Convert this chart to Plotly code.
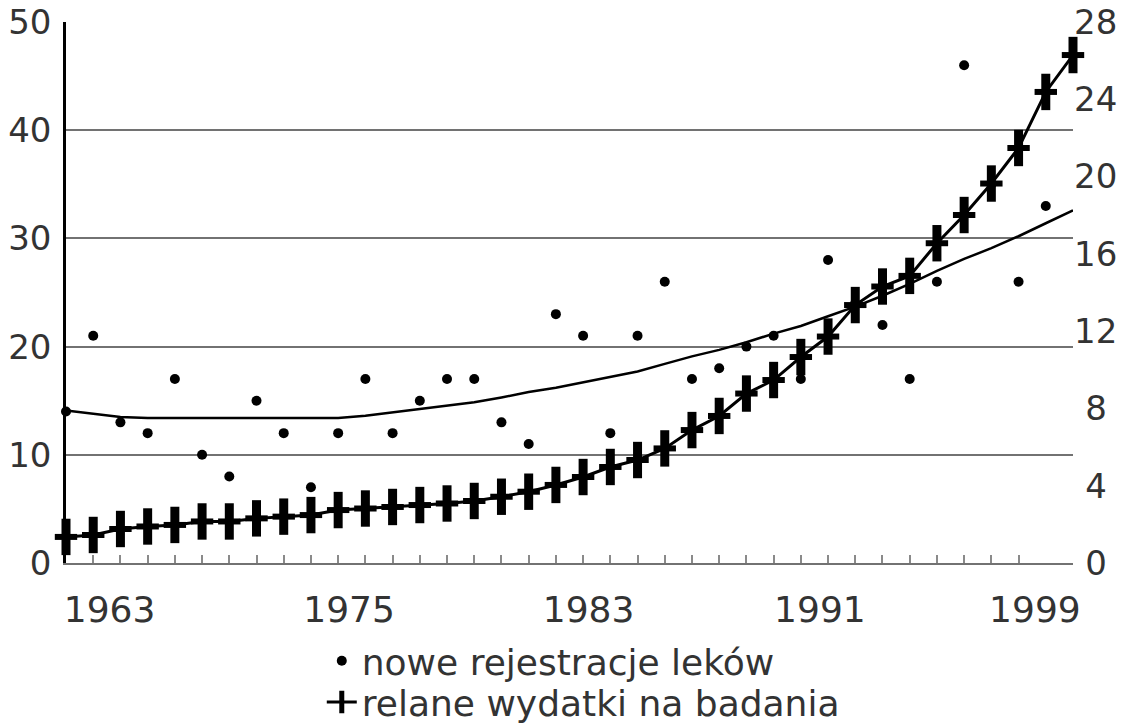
import plotly.graph_objects as go

# ---------------- data ----------------
YEARS = list(range(1963, 2001))

# new drug registrations (left axis)
REGISTRATIONS = [14, 21, 13, 12, 17, 10, 8, 15, 12, 7,
                 12, 17, 12, 15, 17, 17, 13, 11, 23, 21,
                 12, 21, 26, 17, 18, 20, 21, 17, 28, 24,
                 22, 17, 26, 46, 35, 26, 33, None]

# trend of registrations (left axis)
TREND = [14.1, 13.8, 13.5, 13.4, 13.4, 13.4, 13.4, 13.4, 13.4, 13.4,
         13.4, 13.6, 13.9, 14.2, 14.5, 14.85, 15.3, 15.8, 16.2, 16.7,
         17.2, 17.7, 18.4, 19.1, 19.7, 20.4, 21.2, 21.9, 22.8, 23.7,
         24.7, 25.8, 27.0, 28.1, 29.1, 30.2, 31.4, 32.6]

# real research spending (right axis)
SPENDING = [1.35, 1.45, 1.76, 1.89, 1.97, 2.15, 2.15, 2.31, 2.40, 2.48,
            2.74, 2.82, 2.90, 3.00, 3.08, 3.21, 3.43, 3.69, 4.04, 4.45,
            4.97, 5.33, 5.93, 6.88, 7.61, 8.77, 9.47, 10.66, 11.72, 13.35,
            14.31, 14.86, 16.55, 18.01, 19.64, 21.48, 24.38, 26.29]

X_TICK_LABELS = ["1963", "1975", "1983", "1991", "1999"]
X_TICK_LABEL_POS = [1964.6, 1973.4, 1982.2, 1990.7, 1998.6]
Y_LEFT_TICKS = [0, 10, 20, 30, 40, 50]
Y_RIGHT_TICKS = [0, 4, 8, 12, 16, 20, 24, 28]

SERIES_DOTS = "nowe rejestracje leków"
SERIES_CROSS = "relane wydatki na badania"

# ---------------- style ----------------
FONT = "DejaVu Sans"
TXT = "#333333"
GRID = "#727272"


def right_label(v):
    s = str(v)
    return ("\u2004" + s) if len(s) == 1 else s


fig = go.Figure()

fig.add_trace(go.Scatter(
    x=YEARS, y=REGISTRATIONS, mode="markers", name=SERIES_DOTS,
    marker=dict(symbol="circle", size=10, color="black"),
    xaxis="x", yaxis="y", cliponaxis=False, legend="legend",
))

fig.add_trace(go.Scatter(
    x=YEARS, y=TREND, mode="lines", showlegend=False,
    line=dict(color="black", width=2.5),
    xaxis="x2", yaxis="y", cliponaxis=False,
))

fig.add_trace(go.Scatter(
    x=YEARS, y=SPENDING, mode="lines+markers", name=SERIES_CROSS,
    line=dict(color="black", width=3),
    marker=dict(symbol="line-ns", size=26, color="black",
                line=dict(color="black", width=9)),
    xaxis="x", yaxis="y2", cliponaxis=False, legend="legend2",
))

fig.add_trace(go.Scatter(
    x=YEARS, y=SPENDING, mode="markers", showlegend=False,
    marker=dict(symbol="line-ew", size=16, color="black",
                line=dict(color="black", width=6)),
    xaxis="x", yaxis="y2", cliponaxis=False,
))

fig.update_layout(
    width=1130, height=724,
    margin=dict(l=66, r=57, t=22, b=161, autoexpand=False),
    paper_bgcolor="white", plot_bgcolor="white",
    font=dict(family=FONT, color=TXT, size=34),
    xaxis=dict(
        range=[YEARS[0], YEARS[-1]], automargin=False,
        showgrid=False, zeroline=False,
        showline=True, linecolor=GRID, linewidth=2,
        ticks="inside", ticklen=8, tickwidth=2, tickcolor="#8a8a8a",
        tickvals=YEARS[1:36], showticklabels=False,
    ),
    xaxis2=dict(
        overlaying="x", anchor="y", side="bottom", automargin=False,
        range=[YEARS[0], YEARS[-1]],
        showgrid=False, zeroline=False, showline=False,
        ticks="", tickvals=X_TICK_LABEL_POS, ticktext=X_TICK_LABELS,
        tickfont=dict(size=36, family=FONT, color=TXT),
        ticklabelstandoff=22,
    ),
    yaxis=dict(
        range=[0, 50], tickvals=Y_LEFT_TICKS, automargin=False,
        showgrid=True, gridcolor=GRID, gridwidth=2,
        zeroline=False, showline=True, linecolor="black", linewidth=2.5,
        ticks="", tickfont=dict(size=34, family=FONT, color=TXT),
        ticklabelstandoff=5,
    ),
    yaxis2=dict(
        overlaying="y", side="right", anchor="x", automargin=False,
        range=[0, 28], tickvals=Y_RIGHT_TICKS,
        ticktext=[right_label(v) for v in Y_RIGHT_TICKS],
        showgrid=False, zeroline=False, showline=False,
        ticks="", tickfont=dict(size=34, family=FONT, color=TXT),
        ticklabelstandoff=0,
    ),
    legend=dict(
        x=0.254, xanchor="left", y=-0.181, yanchor="middle",
        bgcolor="rgba(0,0,0,0)", font=dict(size=36, family=FONT, color=TXT),
    ),
    legend2=dict(
        x=0.254, xanchor="left", y=-0.257, yanchor="middle",
        bgcolor="rgba(0,0,0,0)", font=dict(size=36, family=FONT, color=TXT),
    ),
)

fig.write_html("out.html", config={"displayModeBar": False},
               post_script="document.body.style.margin='0px';")
